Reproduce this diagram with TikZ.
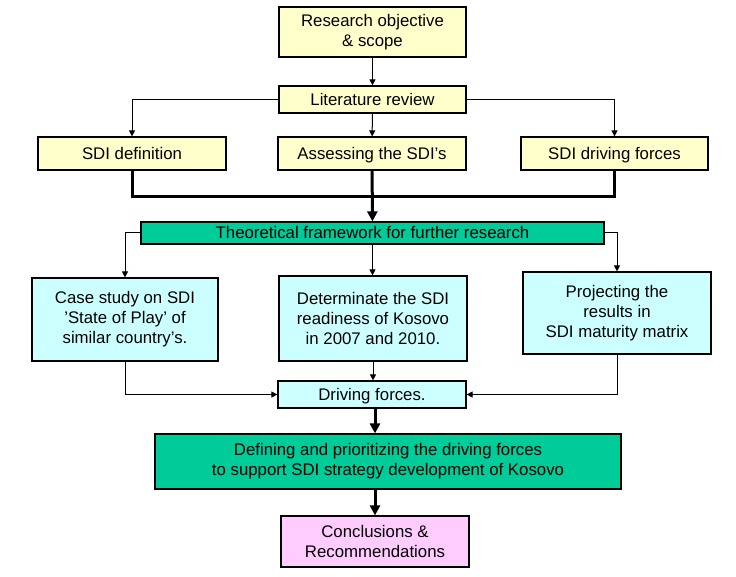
\documentclass[tikz,border=0pt]{standalone}
\usepackage{fontspec}
\setmainfont{Liberation Sans}
\usetikzlibrary{arrows.meta}
\definecolor{yel}{HTML}{FFFFCC}
\definecolor{cyn}{HTML}{CCFFFF}
\definecolor{grn}{HTML}{00CC99}
\definecolor{pnk}{HTML}{FFCCFF}
\begin{document}
\begin{tikzpicture}[x=1pt, y=-1pt,
        box/.style={draw=black, line width=1.2pt, align=center, inner sep=0pt,
          font=\fontsize{16.8}{20}\selectfont},
        one/.style={text height=12pt, text depth=0pt},
        arr/.style={line width=1pt, -{Triangle[length=6pt, width=6pt]}},
        thk/.style={line width=3pt},
        thkarr/.style={line width=3pt, -{Triangle[length=10pt, width=10pt]}}]
        \useasboundingbox (0,0) rectangle (736,577);
        \node [box, fill=yel, minimum width=187pt, minimum height=50pt] (ro) at (372.5,32) {Research objective\\\& scope};
        \node [box, one, fill=yel, minimum width=187pt, minimum height=27pt] (lr) at (372.5,99.5) {Literature review};
        \node [box, one, fill=yel, minimum width=188pt, minimum height=33pt] (def) at (132,153.5) {SDI definition};
        \node [box, one, fill=yel, minimum width=188pt, minimum height=33pt] (ass) at (372,153.5) {Assessing the SDI’s};
        \node [box, one, fill=yel, minimum width=187pt, minimum height=33pt] (drv) at (614.5,153.5) {SDI driving forces};
        \node [box, one, fill=grn, minimum width=463pt, minimum height=22pt] (tf) at (372.5,233) {Theoretical framework for further research};
        \node [box, fill=cyn, minimum width=186pt, minimum height=83pt] (cs) at (125,319.5) {Case study on SDI\\’State of Play’ of\\similar country’s.};
        \node [box, fill=cyn, minimum width=188pt, minimum height=85pt] (dr) at (373,318.5) {Determinate the SDI\\readiness of Kosovo\\in 2007 and 2010.};
        \node [box, fill=cyn, minimum width=188pt, minimum height=82pt] (pr) at (617,313) {Projecting the\\results in\\SDI maturity matrix};
        \node [box, one, fill=cyn, minimum width=188pt, minimum height=27pt] (df) at (372,394.5) {Driving forces.};
        \node [box, fill=grn, minimum width=466pt, minimum height=55pt] (dp) at (388,461.5) {Defining and prioritizing the driving forces\\to support SDI strategy development of Kosovo};
        \node [box, fill=pnk, minimum width=188pt, minimum height=51pt] (cr) at (375,541.5) {Conclusions \&\\Recommendations};
        \coordinate (jn) at (372,197);
        % top part
        \draw [arr] (ro) -- (lr);
        \draw [arr] (lr) -| (def);
        \draw [arr] (lr) -- (ass);
        \draw [arr] (lr) -| (drv);
        \draw [thk] (def.south) |- (jn) -| (drv.south);
        \draw [thkarr] (ass) -- (tf);
        % middle part
        \draw [arr] (tf) -| (cs);
        \draw [arr] (tf) -- (tf.south |- dr.north);
        \draw [arr] (tf) -| (pr);
        \draw [arr] (cs) |- (df);
        \draw [arr] (dr) -- (dr.south |- df.north);
        \draw [arr] (pr) |- (df);
        % bottom part
        \draw [thkarr] (df.south -| cr) -- (cr.north |- dp.north);
        \draw [thkarr] (dp.south -| cr) -- (cr.north);
\end{tikzpicture}
\end{document}
